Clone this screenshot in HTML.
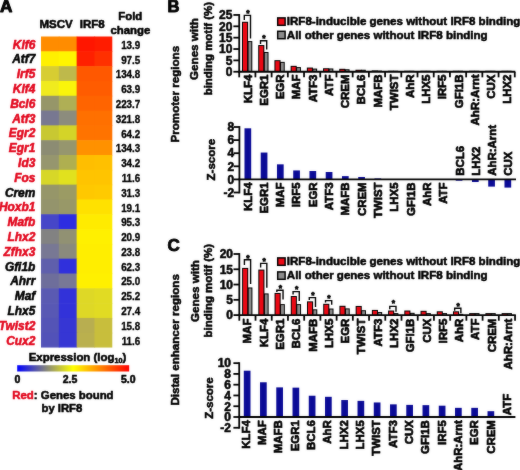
<!DOCTYPE html>
<html lang="en">
<head>
<meta charset="utf-8">
<title>Figure: IRF8-inducible genes and binding motifs</title>
<style>
html,body{margin:0;padding:0;background:#fff;}
body{width:520px;height:470px;overflow:hidden;}
svg{display:block;}
svg text{font-family:"Liberation Sans", Arial, Helvetica, sans-serif;font-weight:bold;stroke-width:0.55px;stroke-linejoin:round;}
</style>
</head>
<body>
<svg width="520" height="470" viewBox="0 0 520 470">
<rect x="0" y="0" width="520" height="470" fill="#fff"/>

<defs><filter id="soft" x="0" y="0" width="100%" height="100%" color-interpolation-filters="sRGB"><feGaussianBlur in="SourceGraphic" stdDeviation="0.8" result="b"/><feComposite in="SourceGraphic" in2="b" operator="arithmetic" k1="0" k2="0.72" k3="0.28" k4="0"/></filter></defs>
<g id="fig" filter="url(#soft)">
<g id="panelA">
<text x="0.1" y="12.2" text-anchor="start" fill="#000" stroke="#000" style="font-size:15.6px;stroke-width:0.9px;" transform="translate(0.1 12.2) rotate(0) scale(1.1 1) translate(-0.1 -12.2)">A</text>
<text x="56.1" y="27.6" text-anchor="middle" fill="#000" stroke="#000" style="font-size:11.5px;">MSCV</text>
<text x="92.2" y="27.6" text-anchor="middle" fill="#000" stroke="#000" style="font-size:11.5px;">IRF8</text>
<text x="130.3" y="20.0" text-anchor="middle" fill="#000" stroke="#000" style="font-size:11.4px;">Fold</text>
<text x="130.4" y="33.6" text-anchor="middle" fill="#000" stroke="#000" style="font-size:11.4px;">change</text>
<rect x="41.00" y="36.50" width="18.43" height="15.41" fill="rgb(255,140,0)"/>
<rect x="58.83" y="36.50" width="18.43" height="15.41" fill="rgb(255,140,0)"/>
<rect x="76.65" y="36.50" width="18.43" height="15.41" fill="rgb(255,22,0)"/>
<rect x="94.47" y="36.50" width="17.82" height="15.41" fill="rgb(255,28,0)"/>
<rect x="41.00" y="51.31" width="18.43" height="15.41" fill="rgb(255,240,0)"/>
<rect x="58.83" y="51.31" width="18.43" height="15.41" fill="rgb(255,245,0)"/>
<rect x="76.65" y="51.31" width="18.43" height="15.41" fill="rgb(255,32,0)"/>
<rect x="94.47" y="51.31" width="17.82" height="15.41" fill="rgb(255,48,0)"/>
<rect x="41.00" y="66.12" width="18.43" height="15.41" fill="rgb(215,205,50)"/>
<rect x="58.83" y="66.12" width="18.43" height="15.41" fill="rgb(190,185,75)"/>
<rect x="76.65" y="66.12" width="18.43" height="15.41" fill="rgb(255,88,0)"/>
<rect x="94.47" y="66.12" width="17.82" height="15.41" fill="rgb(255,88,0)"/>
<rect x="41.00" y="80.94" width="18.43" height="15.41" fill="rgb(240,235,30)"/>
<rect x="58.83" y="80.94" width="18.43" height="15.41" fill="rgb(250,245,10)"/>
<rect x="76.65" y="80.94" width="18.43" height="15.41" fill="rgb(255,92,0)"/>
<rect x="94.47" y="80.94" width="17.82" height="15.41" fill="rgb(255,92,0)"/>
<rect x="41.00" y="95.75" width="18.43" height="15.41" fill="rgb(150,150,105)"/>
<rect x="58.83" y="95.75" width="18.43" height="15.41" fill="rgb(175,175,85)"/>
<rect x="76.65" y="95.75" width="18.43" height="15.41" fill="rgb(255,100,0)"/>
<rect x="94.47" y="95.75" width="17.82" height="15.41" fill="rgb(255,100,0)"/>
<rect x="41.00" y="110.56" width="18.43" height="15.41" fill="rgb(120,120,145)"/>
<rect x="58.83" y="110.56" width="18.43" height="15.41" fill="rgb(140,140,125)"/>
<rect x="76.65" y="110.56" width="18.43" height="15.41" fill="rgb(255,112,0)"/>
<rect x="94.47" y="110.56" width="17.82" height="15.41" fill="rgb(255,112,0)"/>
<rect x="41.00" y="125.37" width="18.43" height="15.41" fill="rgb(200,200,50)"/>
<rect x="58.83" y="125.37" width="18.43" height="15.41" fill="rgb(212,212,40)"/>
<rect x="76.65" y="125.37" width="18.43" height="15.41" fill="rgb(255,115,0)"/>
<rect x="94.47" y="125.37" width="17.82" height="15.41" fill="rgb(255,115,0)"/>
<rect x="41.00" y="140.18" width="18.43" height="15.41" fill="rgb(140,140,115)"/>
<rect x="58.83" y="140.18" width="18.43" height="15.41" fill="rgb(150,150,110)"/>
<rect x="76.65" y="140.18" width="18.43" height="15.41" fill="rgb(255,145,0)"/>
<rect x="94.47" y="140.18" width="17.82" height="15.41" fill="rgb(255,145,0)"/>
<rect x="41.00" y="155.00" width="18.43" height="15.41" fill="rgb(150,150,110)"/>
<rect x="58.83" y="155.00" width="18.43" height="15.41" fill="rgb(175,175,80)"/>
<rect x="76.65" y="155.00" width="18.43" height="15.41" fill="rgb(255,190,0)"/>
<rect x="94.47" y="155.00" width="17.82" height="15.41" fill="rgb(255,192,0)"/>
<rect x="41.00" y="169.81" width="18.43" height="15.41" fill="rgb(215,215,40)"/>
<rect x="58.83" y="169.81" width="18.43" height="15.41" fill="rgb(225,225,30)"/>
<rect x="76.65" y="169.81" width="18.43" height="15.41" fill="rgb(255,196,0)"/>
<rect x="94.47" y="169.81" width="17.82" height="15.41" fill="rgb(255,196,0)"/>
<rect x="41.00" y="184.62" width="18.43" height="15.41" fill="rgb(150,150,105)"/>
<rect x="58.83" y="184.62" width="18.43" height="15.41" fill="rgb(155,155,100)"/>
<rect x="76.65" y="184.62" width="18.43" height="15.41" fill="rgb(255,200,0)"/>
<rect x="94.47" y="184.62" width="17.82" height="15.41" fill="rgb(255,202,0)"/>
<rect x="41.00" y="199.43" width="18.43" height="15.41" fill="rgb(148,148,108)"/>
<rect x="58.83" y="199.43" width="18.43" height="15.41" fill="rgb(152,152,104)"/>
<rect x="76.65" y="199.43" width="18.43" height="15.41" fill="rgb(255,225,0)"/>
<rect x="94.47" y="199.43" width="17.82" height="15.41" fill="rgb(255,225,0)"/>
<rect x="41.00" y="214.24" width="18.43" height="15.41" fill="rgb(70,70,200)"/>
<rect x="58.83" y="214.24" width="18.43" height="15.41" fill="rgb(45,45,225)"/>
<rect x="76.65" y="214.24" width="18.43" height="15.41" fill="rgb(255,235,0)"/>
<rect x="94.47" y="214.24" width="17.82" height="15.41" fill="rgb(255,235,0)"/>
<rect x="41.00" y="229.06" width="18.43" height="15.41" fill="rgb(130,130,130)"/>
<rect x="58.83" y="229.06" width="18.43" height="15.41" fill="rgb(145,145,115)"/>
<rect x="76.65" y="229.06" width="18.43" height="15.41" fill="rgb(255,240,0)"/>
<rect x="94.47" y="229.06" width="17.82" height="15.41" fill="rgb(255,240,0)"/>
<rect x="41.00" y="243.87" width="18.43" height="15.41" fill="rgb(120,120,148)"/>
<rect x="58.83" y="243.87" width="18.43" height="15.41" fill="rgb(138,138,125)"/>
<rect x="76.65" y="243.87" width="18.43" height="15.41" fill="rgb(255,238,0)"/>
<rect x="94.47" y="243.87" width="17.82" height="15.41" fill="rgb(255,238,0)"/>
<rect x="41.00" y="258.68" width="18.43" height="15.41" fill="rgb(95,95,172)"/>
<rect x="58.83" y="258.68" width="18.43" height="15.41" fill="rgb(48,48,220)"/>
<rect x="76.65" y="258.68" width="18.43" height="15.41" fill="rgb(255,238,0)"/>
<rect x="94.47" y="258.68" width="17.82" height="15.41" fill="rgb(255,238,0)"/>
<rect x="41.00" y="273.49" width="18.43" height="15.41" fill="rgb(110,110,155)"/>
<rect x="58.83" y="273.49" width="18.43" height="15.41" fill="rgb(120,120,150)"/>
<rect x="76.65" y="273.49" width="18.43" height="15.41" fill="rgb(255,240,0)"/>
<rect x="94.47" y="273.49" width="17.82" height="15.41" fill="rgb(255,240,0)"/>
<rect x="41.00" y="288.30" width="18.43" height="15.41" fill="rgb(90,90,178)"/>
<rect x="58.83" y="288.30" width="18.43" height="15.41" fill="rgb(50,50,217)"/>
<rect x="76.65" y="288.30" width="18.43" height="15.41" fill="rgb(222,216,38)"/>
<rect x="94.47" y="288.30" width="17.82" height="15.41" fill="rgb(225,219,35)"/>
<rect x="41.00" y="303.12" width="18.43" height="15.41" fill="rgb(88,88,180)"/>
<rect x="58.83" y="303.12" width="18.43" height="15.41" fill="rgb(50,50,217)"/>
<rect x="76.65" y="303.12" width="18.43" height="15.41" fill="rgb(222,216,38)"/>
<rect x="94.47" y="303.12" width="17.82" height="15.41" fill="rgb(225,219,35)"/>
<rect x="41.00" y="317.93" width="18.43" height="15.41" fill="rgb(84,84,182)"/>
<rect x="58.83" y="317.93" width="18.43" height="15.41" fill="rgb(54,54,212)"/>
<rect x="76.65" y="317.93" width="18.43" height="15.41" fill="rgb(184,174,80)"/>
<rect x="94.47" y="317.93" width="17.82" height="15.41" fill="rgb(200,190,60)"/>
<rect x="41.00" y="332.74" width="18.43" height="14.81" fill="rgb(82,82,184)"/>
<rect x="58.83" y="332.74" width="18.43" height="14.81" fill="rgb(54,54,212)"/>
<rect x="76.65" y="332.74" width="18.43" height="14.81" fill="rgb(186,176,78)"/>
<rect x="94.47" y="332.74" width="17.82" height="14.81" fill="rgb(200,190,60)"/>
<text x="35.3" y="48.70" text-anchor="end" fill="#e2081e" stroke="#e2081e" style="font-size:11.9px;stroke-width:0.55px;font-style:italic;">Klf6</text>
<text x="140.3" y="48.85" text-anchor="end" fill="#000" stroke="#000" style="font-size:10.6px;stroke-width:0.35px;" transform="translate(140.3 48.85) rotate(0) scale(0.93 1) translate(-140.3 -48.85)">13.9</text>
<text x="35.3" y="63.49" text-anchor="end" fill="#000" stroke="#000" style="font-size:11.9px;stroke-width:0.55px;font-style:italic;">Atf7</text>
<text x="140.3" y="63.64" text-anchor="end" fill="#000" stroke="#000" style="font-size:10.6px;stroke-width:0.35px;" transform="translate(140.3 63.64) rotate(0) scale(0.93 1) translate(-140.3 -63.64)">97.5</text>
<text x="35.3" y="78.28" text-anchor="end" fill="#e2081e" stroke="#e2081e" style="font-size:11.9px;stroke-width:0.55px;font-style:italic;">Irf5</text>
<text x="140.3" y="78.43" text-anchor="end" fill="#000" stroke="#000" style="font-size:10.6px;stroke-width:0.35px;" transform="translate(140.3 78.43) rotate(0) scale(0.93 1) translate(-140.3 -78.43)">134.8</text>
<text x="35.3" y="93.07" text-anchor="end" fill="#e2081e" stroke="#e2081e" style="font-size:11.9px;stroke-width:0.55px;font-style:italic;">Klf4</text>
<text x="140.3" y="93.22" text-anchor="end" fill="#000" stroke="#000" style="font-size:10.6px;stroke-width:0.35px;" transform="translate(140.3 93.22) rotate(0) scale(0.93 1) translate(-140.3 -93.22)">63.9</text>
<text x="35.3" y="107.86" text-anchor="end" fill="#e2081e" stroke="#e2081e" style="font-size:11.9px;stroke-width:0.55px;font-style:italic;">Bcl6</text>
<text x="140.3" y="108.01" text-anchor="end" fill="#000" stroke="#000" style="font-size:10.6px;stroke-width:0.35px;" transform="translate(140.3 108.01) rotate(0) scale(0.93 1) translate(-140.3 -108.01)">223.7</text>
<text x="35.3" y="122.65" text-anchor="end" fill="#e2081e" stroke="#e2081e" style="font-size:11.9px;stroke-width:0.55px;font-style:italic;">Atf3</text>
<text x="140.3" y="122.80" text-anchor="end" fill="#000" stroke="#000" style="font-size:10.6px;stroke-width:0.35px;" transform="translate(140.3 122.80) rotate(0) scale(0.93 1) translate(-140.3 -122.80)">321.8</text>
<text x="35.3" y="137.44" text-anchor="end" fill="#e2081e" stroke="#e2081e" style="font-size:11.9px;stroke-width:0.55px;font-style:italic;">Egr2</text>
<text x="140.3" y="137.59" text-anchor="end" fill="#000" stroke="#000" style="font-size:10.6px;stroke-width:0.35px;" transform="translate(140.3 137.59) rotate(0) scale(0.93 1) translate(-140.3 -137.59)">64.2</text>
<text x="35.3" y="152.23" text-anchor="end" fill="#e2081e" stroke="#e2081e" style="font-size:11.9px;stroke-width:0.55px;font-style:italic;">Egr1</text>
<text x="140.3" y="152.38" text-anchor="end" fill="#000" stroke="#000" style="font-size:10.6px;stroke-width:0.35px;" transform="translate(140.3 152.38) rotate(0) scale(0.93 1) translate(-140.3 -152.38)">134.3</text>
<text x="35.3" y="167.02" text-anchor="end" fill="#e2081e" stroke="#e2081e" style="font-size:11.9px;stroke-width:0.55px;font-style:italic;">Id3</text>
<text x="140.3" y="167.17" text-anchor="end" fill="#000" stroke="#000" style="font-size:10.6px;stroke-width:0.35px;" transform="translate(140.3 167.17) rotate(0) scale(0.93 1) translate(-140.3 -167.17)">34.2</text>
<text x="35.3" y="181.81" text-anchor="end" fill="#e2081e" stroke="#e2081e" style="font-size:11.9px;stroke-width:0.55px;font-style:italic;">Fos</text>
<text x="140.3" y="181.96" text-anchor="end" fill="#000" stroke="#000" style="font-size:10.6px;stroke-width:0.35px;" transform="translate(140.3 181.96) rotate(0) scale(0.93 1) translate(-140.3 -181.96)">11.6</text>
<text x="35.3" y="196.60" text-anchor="end" fill="#000" stroke="#000" style="font-size:11.9px;stroke-width:0.55px;font-style:italic;">Crem</text>
<text x="140.3" y="196.75" text-anchor="end" fill="#000" stroke="#000" style="font-size:10.6px;stroke-width:0.35px;" transform="translate(140.3 196.75) rotate(0) scale(0.93 1) translate(-140.3 -196.75)">31.3</text>
<text x="35.3" y="211.39" text-anchor="end" fill="#e2081e" stroke="#e2081e" style="font-size:11.9px;stroke-width:0.55px;font-style:italic;">Hoxb1</text>
<text x="140.3" y="211.54" text-anchor="end" fill="#000" stroke="#000" style="font-size:10.6px;stroke-width:0.35px;" transform="translate(140.3 211.54) rotate(0) scale(0.93 1) translate(-140.3 -211.54)">19.1</text>
<text x="35.3" y="226.18" text-anchor="end" fill="#e2081e" stroke="#e2081e" style="font-size:11.9px;stroke-width:0.55px;font-style:italic;">Mafb</text>
<text x="140.3" y="226.33" text-anchor="end" fill="#000" stroke="#000" style="font-size:10.6px;stroke-width:0.35px;" transform="translate(140.3 226.33) rotate(0) scale(0.93 1) translate(-140.3 -226.33)">95.3</text>
<text x="35.3" y="240.97" text-anchor="end" fill="#e2081e" stroke="#e2081e" style="font-size:11.9px;stroke-width:0.55px;font-style:italic;">Lhx2</text>
<text x="140.3" y="241.12" text-anchor="end" fill="#000" stroke="#000" style="font-size:10.6px;stroke-width:0.35px;" transform="translate(140.3 241.12) rotate(0) scale(0.93 1) translate(-140.3 -241.12)">20.9</text>
<text x="35.3" y="255.76" text-anchor="end" fill="#e2081e" stroke="#e2081e" style="font-size:11.9px;stroke-width:0.55px;font-style:italic;">Zfhx3</text>
<text x="140.3" y="255.91" text-anchor="end" fill="#000" stroke="#000" style="font-size:10.6px;stroke-width:0.35px;" transform="translate(140.3 255.91) rotate(0) scale(0.93 1) translate(-140.3 -255.91)">23.8</text>
<text x="35.3" y="270.55" text-anchor="end" fill="#000" stroke="#000" style="font-size:11.9px;stroke-width:0.55px;font-style:italic;">Gfi1b</text>
<text x="140.3" y="270.70" text-anchor="end" fill="#000" stroke="#000" style="font-size:10.6px;stroke-width:0.35px;" transform="translate(140.3 270.70) rotate(0) scale(0.93 1) translate(-140.3 -270.70)">62.3</text>
<text x="35.3" y="285.34" text-anchor="end" fill="#000" stroke="#000" style="font-size:11.9px;stroke-width:0.55px;font-style:italic;">Ahrr</text>
<text x="140.3" y="285.49" text-anchor="end" fill="#000" stroke="#000" style="font-size:10.6px;stroke-width:0.35px;" transform="translate(140.3 285.49) rotate(0) scale(0.93 1) translate(-140.3 -285.49)">25.0</text>
<text x="35.3" y="300.13" text-anchor="end" fill="#000" stroke="#000" style="font-size:11.9px;stroke-width:0.55px;font-style:italic;">Maf</text>
<text x="140.3" y="300.28" text-anchor="end" fill="#000" stroke="#000" style="font-size:10.6px;stroke-width:0.35px;" transform="translate(140.3 300.28) rotate(0) scale(0.93 1) translate(-140.3 -300.28)">25.2</text>
<text x="35.3" y="314.92" text-anchor="end" fill="#000" stroke="#000" style="font-size:11.9px;stroke-width:0.55px;font-style:italic;">Lhx5</text>
<text x="140.3" y="315.07" text-anchor="end" fill="#000" stroke="#000" style="font-size:10.6px;stroke-width:0.35px;" transform="translate(140.3 315.07) rotate(0) scale(0.93 1) translate(-140.3 -315.07)">27.4</text>
<text x="35.3" y="329.71" text-anchor="end" fill="#e2081e" stroke="#e2081e" style="font-size:11.9px;stroke-width:0.55px;font-style:italic;">Twist2</text>
<text x="140.3" y="329.86" text-anchor="end" fill="#000" stroke="#000" style="font-size:10.6px;stroke-width:0.35px;" transform="translate(140.3 329.86) rotate(0) scale(0.93 1) translate(-140.3 -329.86)">15.8</text>
<text x="35.3" y="344.50" text-anchor="end" fill="#e2081e" stroke="#e2081e" style="font-size:11.9px;stroke-width:0.55px;font-style:italic;">Cux2</text>
<text x="140.3" y="344.65" text-anchor="end" fill="#000" stroke="#000" style="font-size:10.6px;stroke-width:0.35px;" transform="translate(140.3 344.65) rotate(0) scale(0.93 1) translate(-140.3 -344.65)">11.6</text>
<text x="28.7" y="361.1" stroke="#000" style="font-size:11.45px">Expression (log<tspan dy="2.3" style="font-size:7.2px">10</tspan><tspan dy="-2.3">)</tspan></text>
<defs><linearGradient id="cb" x1="0" x2="1" y1="0" y2="0"><stop offset="0" stop-color="rgb(0,0,255)"/><stop offset="0.25" stop-color="rgb(128,128,128)"/><stop offset="0.5" stop-color="rgb(255,255,0)"/><stop offset="0.75" stop-color="rgb(255,128,0)"/><stop offset="1" stop-color="rgb(255,0,0)"/></linearGradient></defs>
<rect x="17.20" y="365.20" width="112.00" height="6.30" fill="url(#cb)"/>
<text x="17.5" y="382.6" text-anchor="middle" fill="#000" stroke="#000" style="font-size:10.5px;">0</text>
<text x="70.0" y="382.6" text-anchor="middle" fill="#000" stroke="#000" style="font-size:10.5px;">2.5</text>
<text x="128.3" y="382.6" text-anchor="middle" fill="#000" stroke="#000" style="font-size:10.5px;">5.0</text>
<text x="12.3" y="398.5" stroke="#000" style="font-size:11.4px"><tspan fill="#e2081e" stroke="#e2081e">Red</tspan>: Genes bound</text>
<text x="41.5" y="412.3" text-anchor="start" fill="#000" stroke="#000" style="font-size:11.3px;">by IRF8</text>
</g>
<g id="panelB">
<text x="167.4" y="12.0" text-anchor="start" fill="#000" stroke="#000" style="font-size:16.6px;stroke-width:0.9px;">B</text>
<text x="178.6" y="142.5" text-anchor="start" fill="#000" stroke="#000" style="font-size:11.6px;" transform="rotate(-90 178.6 142.5)">Promoter regions</text>
<text x="198.5" y="79.9" text-anchor="start" fill="#000" stroke="#000" style="font-size:11.6px;" transform="rotate(-90 198.5 79.9)">Genes with</text>
<text x="212.3" y="95.3" text-anchor="start" fill="#000" stroke="#000" style="font-size:11.45px;" transform="rotate(-90 212.3 95.3)">binding motif (%)</text>
<rect x="247.50" y="41.08" width="4.80" height="30.67" fill="#000"/>
<rect x="248.50" y="42.08" width="2.80" height="29.67" fill="#8c8c8c"/>
<rect x="242.00" y="21.77" width="6.10" height="49.98" fill="#000"/>
<rect x="243.00" y="22.77" width="4.10" height="48.98" fill="#ee0814"/>
<rect x="263.71" y="51.98" width="4.80" height="19.77" fill="#000"/>
<rect x="264.71" y="52.98" width="2.80" height="18.77" fill="#8c8c8c"/>
<rect x="258.21" y="45.05" width="6.10" height="26.70" fill="#000"/>
<rect x="259.21" y="46.05" width="4.10" height="25.70" fill="#ee0814"/>
<rect x="279.93" y="61.87" width="4.80" height="9.88" fill="#000"/>
<rect x="280.93" y="62.87" width="2.80" height="8.88" fill="#8c8c8c"/>
<rect x="274.43" y="60.16" width="6.10" height="11.59" fill="#000"/>
<rect x="275.43" y="61.16" width="4.10" height="10.59" fill="#ee0814"/>
<rect x="296.13" y="67.09" width="4.80" height="4.66" fill="#000"/>
<rect x="297.13" y="68.09" width="2.80" height="3.66" fill="#8c8c8c"/>
<rect x="290.63" y="65.84" width="6.10" height="5.91" fill="#000"/>
<rect x="291.63" y="66.84" width="4.10" height="4.91" fill="#ee0814"/>
<rect x="312.34" y="68.57" width="4.80" height="3.18" fill="#000"/>
<rect x="313.34" y="69.57" width="2.80" height="2.18" fill="#8c8c8c"/>
<rect x="306.84" y="67.55" width="6.10" height="4.20" fill="#000"/>
<rect x="307.84" y="68.55" width="4.10" height="3.20" fill="#ee0814"/>
<rect x="328.56" y="68.46" width="4.80" height="3.29" fill="#000"/>
<rect x="329.56" y="69.46" width="2.80" height="2.29" fill="#8c8c8c"/>
<rect x="323.06" y="68.23" width="6.10" height="3.52" fill="#000"/>
<rect x="324.06" y="69.23" width="4.10" height="2.52" fill="#ee0814"/>
<rect x="344.76" y="69.25" width="4.80" height="2.50" fill="#000"/>
<rect x="345.76" y="70.25" width="2.80" height="1.50" fill="#8c8c8c"/>
<rect x="339.26" y="68.80" width="6.10" height="2.95" fill="#000"/>
<rect x="340.26" y="69.80" width="4.10" height="1.95" fill="#ee0814"/>
<rect x="360.97" y="69.75" width="4.80" height="2.00" fill="#000"/>
<rect x="361.97" y="70.75" width="2.80" height="1.00" fill="#8c8c8c"/>
<rect x="355.47" y="69.75" width="6.10" height="2.00" fill="#000"/>
<rect x="356.47" y="70.75" width="4.10" height="1.00" fill="#ee0814"/>
<rect x="377.19" y="70.61" width="4.80" height="1.14" fill="#000"/>
<rect x="371.69" y="70.39" width="6.10" height="1.36" fill="#000"/>
<rect x="372.69" y="71.39" width="4.10" height="0.36" fill="#ee0814"/>
<rect x="393.39" y="70.75" width="4.80" height="1.00" fill="#000"/>
<rect x="387.89" y="70.73" width="6.10" height="1.02" fill="#000"/>
<rect x="409.60" y="70.75" width="4.80" height="1.00" fill="#000"/>
<rect x="404.10" y="70.75" width="6.10" height="1.00" fill="#000"/>
<rect x="425.81" y="70.75" width="4.80" height="1.00" fill="#000"/>
<rect x="420.31" y="70.75" width="6.10" height="1.00" fill="#000"/>
<rect x="442.02" y="70.75" width="4.80" height="1.00" fill="#000"/>
<rect x="436.52" y="70.75" width="6.10" height="1.00" fill="#000"/>
<rect x="458.23" y="70.75" width="4.80" height="1.00" fill="#000"/>
<rect x="452.73" y="70.75" width="6.10" height="1.00" fill="#000"/>
<rect x="474.44" y="70.75" width="4.80" height="1.00" fill="#000"/>
<rect x="468.94" y="70.75" width="6.10" height="1.00" fill="#000"/>
<rect x="490.66" y="70.75" width="4.80" height="1.00" fill="#000"/>
<rect x="485.16" y="70.75" width="6.10" height="1.00" fill="#000"/>
<rect x="506.87" y="70.75" width="4.80" height="1.00" fill="#000"/>
<rect x="501.37" y="70.75" width="6.10" height="1.00" fill="#000"/>
<polyline points="244.30,20.00 244.30,15.40 250.50,15.40 250.50,38.60" fill="none" stroke="#000" stroke-width="1.4"/>
<text x="247.80" y="16.20" text-anchor="middle" fill="#000" stroke="#000" style="font-size:8.5px;stroke-width:0.7px">*</text>
<polyline points="260.51,44.00 260.51,40.80 266.71,40.80 266.71,49.60" fill="none" stroke="#000" stroke-width="1.4"/>
<text x="264.01" y="40.90" text-anchor="middle" fill="#000" stroke="#000" style="font-size:8.5px;stroke-width:0.7px">*</text>
<line x1="238.30" y1="71.75" x2="515.30" y2="71.75" stroke="#000" stroke-width="1.8" stroke-linecap="butt"/>
<line x1="239.20" y1="14.05" x2="239.20" y2="72.65" stroke="#000" stroke-width="1.8" stroke-linecap="butt"/>
<line x1="233.40" y1="71.75" x2="239.20" y2="71.75" stroke="#000" stroke-width="1.8" stroke-linecap="butt"/>
<text x="232.4" y="76.05" text-anchor="end" fill="#000" stroke="#000" style="font-size:12.0px;">0</text>
<line x1="233.40" y1="60.39" x2="239.20" y2="60.39" stroke="#000" stroke-width="1.8" stroke-linecap="butt"/>
<text x="232.4" y="64.69" text-anchor="end" fill="#000" stroke="#000" style="font-size:12.0px;">5</text>
<line x1="233.40" y1="49.03" x2="239.20" y2="49.03" stroke="#000" stroke-width="1.8" stroke-linecap="butt"/>
<text x="232.4" y="53.33" text-anchor="end" fill="#000" stroke="#000" style="font-size:12.0px;">10</text>
<line x1="233.40" y1="37.67" x2="239.20" y2="37.67" stroke="#000" stroke-width="1.8" stroke-linecap="butt"/>
<text x="232.4" y="41.97" text-anchor="end" fill="#000" stroke="#000" style="font-size:12.0px;">15</text>
<line x1="233.40" y1="26.31" x2="239.20" y2="26.31" stroke="#000" stroke-width="1.8" stroke-linecap="butt"/>
<text x="232.4" y="30.61" text-anchor="end" fill="#000" stroke="#000" style="font-size:12.0px;">20</text>
<line x1="233.40" y1="14.95" x2="239.20" y2="14.95" stroke="#000" stroke-width="1.8" stroke-linecap="butt"/>
<text x="232.4" y="19.25" text-anchor="end" fill="#000" stroke="#000" style="font-size:12.0px;">25</text>
<line x1="239.20" y1="71.75" x2="239.20" y2="77.35" stroke="#000" stroke-width="1.8" stroke-linecap="butt"/>
<line x1="255.41" y1="71.75" x2="255.41" y2="77.35" stroke="#000" stroke-width="1.8" stroke-linecap="butt"/>
<line x1="271.62" y1="71.75" x2="271.62" y2="77.35" stroke="#000" stroke-width="1.8" stroke-linecap="butt"/>
<line x1="287.83" y1="71.75" x2="287.83" y2="77.35" stroke="#000" stroke-width="1.8" stroke-linecap="butt"/>
<line x1="304.04" y1="71.75" x2="304.04" y2="77.35" stroke="#000" stroke-width="1.8" stroke-linecap="butt"/>
<line x1="320.25" y1="71.75" x2="320.25" y2="77.35" stroke="#000" stroke-width="1.8" stroke-linecap="butt"/>
<line x1="336.46" y1="71.75" x2="336.46" y2="77.35" stroke="#000" stroke-width="1.8" stroke-linecap="butt"/>
<line x1="352.67" y1="71.75" x2="352.67" y2="77.35" stroke="#000" stroke-width="1.8" stroke-linecap="butt"/>
<line x1="368.88" y1="71.75" x2="368.88" y2="77.35" stroke="#000" stroke-width="1.8" stroke-linecap="butt"/>
<line x1="385.09" y1="71.75" x2="385.09" y2="77.35" stroke="#000" stroke-width="1.8" stroke-linecap="butt"/>
<line x1="401.30" y1="71.75" x2="401.30" y2="77.35" stroke="#000" stroke-width="1.8" stroke-linecap="butt"/>
<line x1="417.51" y1="71.75" x2="417.51" y2="77.35" stroke="#000" stroke-width="1.8" stroke-linecap="butt"/>
<line x1="433.72" y1="71.75" x2="433.72" y2="77.35" stroke="#000" stroke-width="1.8" stroke-linecap="butt"/>
<line x1="449.93" y1="71.75" x2="449.93" y2="77.35" stroke="#000" stroke-width="1.8" stroke-linecap="butt"/>
<line x1="466.14" y1="71.75" x2="466.14" y2="77.35" stroke="#000" stroke-width="1.8" stroke-linecap="butt"/>
<line x1="482.35" y1="71.75" x2="482.35" y2="77.35" stroke="#000" stroke-width="1.8" stroke-linecap="butt"/>
<line x1="498.56" y1="71.75" x2="498.56" y2="77.35" stroke="#000" stroke-width="1.8" stroke-linecap="butt"/>
<line x1="514.77" y1="71.75" x2="514.77" y2="77.35" stroke="#000" stroke-width="1.8" stroke-linecap="butt"/>
<text x="251.60" y="74.50" text-anchor="end" fill="#000" stroke="#000" style="font-size:11.8px;stroke-width:0.7px;" transform="translate(251.60 74.50) rotate(-90) scale(0.972 1) translate(-251.60 -74.50)">KLF4</text>
<text x="267.84" y="74.50" text-anchor="end" fill="#000" stroke="#000" style="font-size:11.8px;stroke-width:0.7px;" transform="translate(267.84 74.50) rotate(-90) scale(0.972 1) translate(-267.84 -74.50)">EGR1</text>
<text x="284.08" y="74.50" text-anchor="end" fill="#000" stroke="#000" style="font-size:11.8px;stroke-width:0.7px;" transform="translate(284.08 74.50) rotate(-90) scale(0.972 1) translate(-284.08 -74.50)">EGR</text>
<text x="300.32" y="74.50" text-anchor="end" fill="#000" stroke="#000" style="font-size:11.8px;stroke-width:0.7px;" transform="translate(300.32 74.50) rotate(-90) scale(0.972 1) translate(-300.32 -74.50)">MAF</text>
<text x="316.56" y="74.50" text-anchor="end" fill="#000" stroke="#000" style="font-size:11.8px;stroke-width:0.7px;" transform="translate(316.56 74.50) rotate(-90) scale(0.972 1) translate(-316.56 -74.50)">ATF3</text>
<text x="332.81" y="74.50" text-anchor="end" fill="#000" stroke="#000" style="font-size:11.8px;stroke-width:0.7px;" transform="translate(332.81 74.50) rotate(-90) scale(0.972 1) translate(-332.81 -74.50)">ATF</text>
<text x="349.05" y="74.50" text-anchor="end" fill="#000" stroke="#000" style="font-size:11.8px;stroke-width:0.7px;" transform="translate(349.05 74.50) rotate(-90) scale(0.972 1) translate(-349.05 -74.50)">CREM</text>
<text x="365.28" y="74.50" text-anchor="end" fill="#000" stroke="#000" style="font-size:11.8px;stroke-width:0.7px;" transform="translate(365.28 74.50) rotate(-90) scale(0.972 1) translate(-365.28 -74.50)">BCL6</text>
<text x="381.52" y="74.50" text-anchor="end" fill="#000" stroke="#000" style="font-size:11.8px;stroke-width:0.7px;" transform="translate(381.52 74.50) rotate(-90) scale(0.972 1) translate(-381.52 -74.50)">MAFB</text>
<text x="397.76" y="74.50" text-anchor="end" fill="#000" stroke="#000" style="font-size:11.8px;stroke-width:0.7px;" transform="translate(397.76 74.50) rotate(-90) scale(0.972 1) translate(-397.76 -74.50)">TWIST</text>
<text x="414.00" y="74.50" text-anchor="end" fill="#000" stroke="#000" style="font-size:11.8px;stroke-width:0.7px;" transform="translate(414.00 74.50) rotate(-90) scale(0.972 1) translate(-414.00 -74.50)">AhR</text>
<text x="430.24" y="74.50" text-anchor="end" fill="#000" stroke="#000" style="font-size:11.8px;stroke-width:0.7px;" transform="translate(430.24 74.50) rotate(-90) scale(0.972 1) translate(-430.24 -74.50)">LHX5</text>
<text x="446.48" y="74.50" text-anchor="end" fill="#000" stroke="#000" style="font-size:11.8px;stroke-width:0.7px;" transform="translate(446.48 74.50) rotate(-90) scale(0.972 1) translate(-446.48 -74.50)">IRF5</text>
<text x="462.72" y="74.50" text-anchor="end" fill="#000" stroke="#000" style="font-size:11.8px;stroke-width:0.7px;" transform="translate(462.72 74.50) rotate(-90) scale(0.972 1) translate(-462.72 -74.50)">GFI1B</text>
<text x="478.96" y="74.50" text-anchor="end" fill="#000" stroke="#000" style="font-size:11.8px;stroke-width:0.7px;" transform="translate(478.96 74.50) rotate(-90) scale(0.972 1) translate(-478.96 -74.50)">AhR:Arnt</text>
<text x="495.20" y="74.50" text-anchor="end" fill="#000" stroke="#000" style="font-size:11.8px;stroke-width:0.7px;" transform="translate(495.20 74.50) rotate(-90) scale(0.972 1) translate(-495.20 -74.50)">CUX</text>
<text x="511.44" y="74.50" text-anchor="end" fill="#000" stroke="#000" style="font-size:11.8px;stroke-width:0.7px;" transform="translate(511.44 74.50) rotate(-90) scale(0.972 1) translate(-511.44 -74.50)">LHX2</text>
<rect x="277.70" y="17.90" width="7.40" height="7.40" fill="#ee0814" stroke="#000" stroke-width="1.5"/>
<rect x="277.70" y="31.30" width="7.40" height="7.40" fill="#8c8c8c" stroke="#000" stroke-width="1.5"/>
<text x="286.8" y="25.30" text-anchor="start" fill="#000" stroke="#000" style="font-size:11.55px;">IRF8-inducible genes without IRF8 binding</text>
<text x="286.8" y="38.70" text-anchor="start" fill="#000" stroke="#000" style="font-size:11.55px;">All other genes without IRF8 binding</text>
<text x="215.2" y="180.4" text-anchor="start" fill="#000" stroke="#000" style="font-size:11.5px;" transform="rotate(-90 215.2 180.4)">Z-score</text>
<rect x="244.48" y="128.31" width="6.70" height="51.09" fill="#0a0a96"/>
<rect x="260.72" y="152.55" width="6.70" height="26.85" fill="#0a0a96"/>
<rect x="276.97" y="164.34" width="6.70" height="15.06" fill="#0a0a96"/>
<rect x="293.22" y="170.43" width="6.70" height="8.97" fill="#0a0a96"/>
<rect x="309.47" y="171.02" width="6.70" height="8.38" fill="#0a0a96"/>
<rect x="325.72" y="172.00" width="6.70" height="7.40" fill="#0a0a96"/>
<rect x="341.97" y="176.12" width="6.70" height="3.27" fill="#0a0a96"/>
<rect x="358.22" y="176.98" width="6.70" height="2.42" fill="#0a0a96"/>
<rect x="374.47" y="178.42" width="6.70" height="0.98" fill="#0a0a96"/>
<rect x="390.72" y="179.01" width="6.70" height="0.39" fill="#0a0a96"/>
<rect x="406.97" y="179.07" width="6.70" height="0.33" fill="#0a0a96"/>
<rect x="423.22" y="179.40" width="6.70" height="0.00" fill="#0a0a96"/>
<rect x="439.47" y="179.40" width="6.70" height="0.00" fill="#0a0a96"/>
<rect x="455.72" y="179.40" width="6.70" height="1.31" fill="#0a0a96"/>
<rect x="471.97" y="179.40" width="6.70" height="2.62" fill="#0a0a96"/>
<rect x="488.22" y="179.40" width="6.70" height="7.21" fill="#0a0a96"/>
<rect x="504.47" y="179.40" width="6.70" height="8.19" fill="#0a0a96"/>
<line x1="238.50" y1="179.40" x2="516.00" y2="179.40" stroke="#000" stroke-width="1.8" stroke-linecap="butt"/>
<line x1="239.40" y1="126.10" x2="239.40" y2="193.40" stroke="#000" stroke-width="1.8" stroke-linecap="butt"/>
<line x1="233.60" y1="192.50" x2="239.40" y2="192.50" stroke="#000" stroke-width="1.8" stroke-linecap="butt"/>
<text x="234.0" y="196.76" text-anchor="end" fill="#000" stroke="#000" style="font-size:11.9px;">-2</text>
<line x1="233.60" y1="179.40" x2="239.40" y2="179.40" stroke="#000" stroke-width="1.8" stroke-linecap="butt"/>
<text x="234.0" y="183.66" text-anchor="end" fill="#000" stroke="#000" style="font-size:11.9px;">0</text>
<line x1="233.60" y1="166.30" x2="239.40" y2="166.30" stroke="#000" stroke-width="1.8" stroke-linecap="butt"/>
<text x="234.0" y="170.56" text-anchor="end" fill="#000" stroke="#000" style="font-size:11.9px;">2</text>
<line x1="233.60" y1="153.20" x2="239.40" y2="153.20" stroke="#000" stroke-width="1.8" stroke-linecap="butt"/>
<text x="234.0" y="157.46" text-anchor="end" fill="#000" stroke="#000" style="font-size:11.9px;">4</text>
<line x1="233.60" y1="140.10" x2="239.40" y2="140.10" stroke="#000" stroke-width="1.8" stroke-linecap="butt"/>
<text x="234.0" y="144.36" text-anchor="end" fill="#000" stroke="#000" style="font-size:11.9px;">6</text>
<line x1="233.60" y1="127.00" x2="239.40" y2="127.00" stroke="#000" stroke-width="1.8" stroke-linecap="butt"/>
<text x="234.0" y="131.26" text-anchor="end" fill="#000" stroke="#000" style="font-size:11.9px;">8</text>
<text x="251.53" y="182.40" text-anchor="end" fill="#000" stroke="#000" style="font-size:11.8px;stroke-width:0.7px;" transform="translate(251.53 182.40) rotate(-90) scale(0.97 1) translate(-251.53 -182.40)">KLF4</text>
<text x="267.83" y="182.40" text-anchor="end" fill="#000" stroke="#000" style="font-size:11.8px;stroke-width:0.7px;" transform="translate(267.83 182.40) rotate(-90) scale(0.97 1) translate(-267.83 -182.40)">EGR1</text>
<text x="284.14" y="182.40" text-anchor="end" fill="#000" stroke="#000" style="font-size:11.8px;stroke-width:0.7px;" transform="translate(284.14 182.40) rotate(-90) scale(0.97 1) translate(-284.14 -182.40)">MAF</text>
<text x="300.45" y="182.40" text-anchor="end" fill="#000" stroke="#000" style="font-size:11.8px;stroke-width:0.7px;" transform="translate(300.45 182.40) rotate(-90) scale(0.97 1) translate(-300.45 -182.40)">IRF5</text>
<text x="316.76" y="182.40" text-anchor="end" fill="#000" stroke="#000" style="font-size:11.8px;stroke-width:0.7px;" transform="translate(316.76 182.40) rotate(-90) scale(0.97 1) translate(-316.76 -182.40)">EGR</text>
<text x="333.07" y="182.40" text-anchor="end" fill="#000" stroke="#000" style="font-size:11.8px;stroke-width:0.7px;" transform="translate(333.07 182.40) rotate(-90) scale(0.97 1) translate(-333.07 -182.40)">ATF3</text>
<text x="349.38" y="182.40" text-anchor="end" fill="#000" stroke="#000" style="font-size:11.8px;stroke-width:0.7px;" transform="translate(349.38 182.40) rotate(-90) scale(0.97 1) translate(-349.38 -182.40)">MAFB</text>
<text x="365.69" y="182.40" text-anchor="end" fill="#000" stroke="#000" style="font-size:11.8px;stroke-width:0.7px;" transform="translate(365.69 182.40) rotate(-90) scale(0.97 1) translate(-365.69 -182.40)">CREM</text>
<text x="382.00" y="182.40" text-anchor="end" fill="#000" stroke="#000" style="font-size:11.8px;stroke-width:0.7px;" transform="translate(382.00 182.40) rotate(-90) scale(0.97 1) translate(-382.00 -182.40)">TWIST</text>
<text x="398.31" y="182.40" text-anchor="end" fill="#000" stroke="#000" style="font-size:11.8px;stroke-width:0.7px;" transform="translate(398.31 182.40) rotate(-90) scale(0.97 1) translate(-398.31 -182.40)">LHX5</text>
<text x="414.62" y="182.40" text-anchor="end" fill="#000" stroke="#000" style="font-size:11.8px;stroke-width:0.7px;" transform="translate(414.62 182.40) rotate(-90) scale(0.97 1) translate(-414.62 -182.40)">GFI1B</text>
<text x="430.94" y="182.40" text-anchor="end" fill="#000" stroke="#000" style="font-size:11.8px;stroke-width:0.7px;" transform="translate(430.94 182.40) rotate(-90) scale(0.97 1) translate(-430.94 -182.40)">AhR</text>
<text x="447.25" y="182.40" text-anchor="end" fill="#000" stroke="#000" style="font-size:11.8px;stroke-width:0.7px;" transform="translate(447.25 182.40) rotate(-90) scale(0.97 1) translate(-447.25 -182.40)">ATF</text>
<text x="463.55" y="175.80" text-anchor="start" fill="#000" stroke="#000" style="font-size:11.8px;stroke-width:0.7px;" transform="translate(463.55 175.80) rotate(-90) scale(0.97 1) translate(-463.55 -175.80)">BCL6</text>
<text x="479.87" y="175.80" text-anchor="start" fill="#000" stroke="#000" style="font-size:11.8px;stroke-width:0.7px;" transform="translate(479.87 175.80) rotate(-90) scale(0.97 1) translate(-479.87 -175.80)">LHX2</text>
<text x="496.17" y="175.80" text-anchor="start" fill="#000" stroke="#000" style="font-size:11.8px;stroke-width:0.7px;" transform="translate(496.17 175.80) rotate(-90) scale(0.97 1) translate(-496.17 -175.80)">AhR:Arnt</text>
<text x="512.49" y="175.80" text-anchor="start" fill="#000" stroke="#000" style="font-size:11.8px;stroke-width:0.7px;" transform="translate(512.49 175.80) rotate(-90) scale(0.97 1) translate(-512.49 -175.80)">CUX</text>
</g>
<g id="panelC">
<text x="167.5" y="251.4" text-anchor="start" fill="#000" stroke="#000" style="font-size:17px;stroke-width:0.9px;">C</text>
<text x="179.5" y="405.6" text-anchor="start" fill="#000" stroke="#000" style="font-size:11.6px;" transform="rotate(-90 179.5 405.6)">Distal enhancer regions</text>
<text x="198.5" y="322.0" text-anchor="start" fill="#000" stroke="#000" style="font-size:11.6px;" transform="rotate(-90 198.5 322.0)">Genes with</text>
<text x="212.3" y="337.4" text-anchor="start" fill="#000" stroke="#000" style="font-size:11.45px;" transform="rotate(-90 212.3 337.4)">binding motif (%)</text>
<rect x="247.61" y="287.45" width="4.80" height="27.65" fill="#000"/>
<rect x="248.61" y="288.45" width="2.80" height="26.65" fill="#8c8c8c"/>
<rect x="242.11" y="267.90" width="6.10" height="47.20" fill="#000"/>
<rect x="243.11" y="268.90" width="4.10" height="46.20" fill="#ee0814"/>
<rect x="263.83" y="293.41" width="4.80" height="21.69" fill="#000"/>
<rect x="264.83" y="294.41" width="2.80" height="20.69" fill="#8c8c8c"/>
<rect x="258.33" y="269.58" width="6.10" height="45.52" fill="#000"/>
<rect x="259.33" y="270.58" width="4.10" height="44.52" fill="#ee0814"/>
<rect x="280.05" y="304.10" width="4.80" height="11.00" fill="#000"/>
<rect x="281.05" y="305.10" width="2.80" height="10.00" fill="#8c8c8c"/>
<rect x="274.55" y="292.95" width="6.10" height="22.15" fill="#000"/>
<rect x="275.55" y="293.95" width="4.10" height="21.15" fill="#ee0814"/>
<rect x="296.27" y="304.10" width="4.80" height="11.00" fill="#000"/>
<rect x="297.27" y="305.10" width="2.80" height="10.00" fill="#8c8c8c"/>
<rect x="290.77" y="296.01" width="6.10" height="19.09" fill="#000"/>
<rect x="291.77" y="297.01" width="4.10" height="18.09" fill="#ee0814"/>
<rect x="312.49" y="309.30" width="4.80" height="5.80" fill="#000"/>
<rect x="313.49" y="310.30" width="2.80" height="4.80" fill="#8c8c8c"/>
<rect x="306.99" y="301.35" width="6.10" height="13.75" fill="#000"/>
<rect x="307.99" y="302.35" width="4.10" height="12.75" fill="#ee0814"/>
<rect x="328.71" y="308.53" width="4.80" height="6.57" fill="#000"/>
<rect x="329.71" y="309.53" width="2.80" height="5.57" fill="#8c8c8c"/>
<rect x="323.21" y="303.80" width="6.10" height="11.30" fill="#000"/>
<rect x="324.21" y="304.80" width="4.10" height="10.30" fill="#ee0814"/>
<rect x="344.93" y="308.38" width="4.80" height="6.72" fill="#000"/>
<rect x="345.93" y="309.38" width="2.80" height="5.72" fill="#8c8c8c"/>
<rect x="339.43" y="305.78" width="6.10" height="9.32" fill="#000"/>
<rect x="340.43" y="306.78" width="4.10" height="8.32" fill="#ee0814"/>
<rect x="361.15" y="310.21" width="4.80" height="4.89" fill="#000"/>
<rect x="362.15" y="311.21" width="2.80" height="3.89" fill="#8c8c8c"/>
<rect x="355.65" y="305.94" width="6.10" height="9.17" fill="#000"/>
<rect x="356.65" y="306.94" width="4.10" height="8.17" fill="#ee0814"/>
<rect x="377.37" y="312.05" width="4.80" height="3.06" fill="#000"/>
<rect x="378.37" y="313.05" width="2.80" height="2.06" fill="#8c8c8c"/>
<rect x="371.87" y="309.91" width="6.10" height="5.19" fill="#000"/>
<rect x="372.87" y="310.91" width="4.10" height="4.19" fill="#ee0814"/>
<rect x="393.59" y="313.10" width="4.80" height="2.00" fill="#000"/>
<rect x="394.59" y="314.10" width="2.80" height="1.00" fill="#8c8c8c"/>
<rect x="388.09" y="310.52" width="6.10" height="4.58" fill="#000"/>
<rect x="389.09" y="311.52" width="4.10" height="3.58" fill="#ee0814"/>
<rect x="409.81" y="312.81" width="4.80" height="2.29" fill="#000"/>
<rect x="410.81" y="313.81" width="2.80" height="1.29" fill="#8c8c8c"/>
<rect x="404.31" y="310.52" width="6.10" height="4.58" fill="#000"/>
<rect x="405.31" y="311.52" width="4.10" height="3.58" fill="#ee0814"/>
<rect x="426.03" y="313.10" width="4.80" height="2.00" fill="#000"/>
<rect x="427.03" y="314.10" width="2.80" height="1.00" fill="#8c8c8c"/>
<rect x="420.53" y="310.82" width="6.10" height="4.28" fill="#000"/>
<rect x="421.53" y="311.82" width="4.10" height="3.28" fill="#ee0814"/>
<rect x="442.25" y="313.10" width="4.80" height="2.00" fill="#000"/>
<rect x="443.25" y="314.10" width="2.80" height="1.00" fill="#8c8c8c"/>
<rect x="436.75" y="311.28" width="6.10" height="3.82" fill="#000"/>
<rect x="437.75" y="312.28" width="4.10" height="2.82" fill="#ee0814"/>
<rect x="458.47" y="313.88" width="4.80" height="1.22" fill="#000"/>
<rect x="452.97" y="311.28" width="6.10" height="3.82" fill="#000"/>
<rect x="453.97" y="312.28" width="4.10" height="2.82" fill="#ee0814"/>
<rect x="474.69" y="313.10" width="4.80" height="2.00" fill="#000"/>
<rect x="475.69" y="314.10" width="2.80" height="1.00" fill="#8c8c8c"/>
<rect x="469.19" y="313.10" width="6.10" height="2.00" fill="#000"/>
<rect x="470.19" y="314.10" width="4.10" height="1.00" fill="#ee0814"/>
<rect x="490.91" y="313.10" width="4.80" height="2.00" fill="#000"/>
<rect x="491.91" y="314.10" width="2.80" height="1.00" fill="#8c8c8c"/>
<rect x="485.41" y="313.10" width="6.10" height="2.00" fill="#000"/>
<rect x="486.41" y="314.10" width="4.10" height="1.00" fill="#ee0814"/>
<rect x="507.13" y="313.10" width="4.80" height="2.00" fill="#000"/>
<rect x="508.13" y="314.10" width="2.80" height="1.00" fill="#8c8c8c"/>
<rect x="501.63" y="313.10" width="6.10" height="2.00" fill="#000"/>
<rect x="502.63" y="314.10" width="4.10" height="1.00" fill="#ee0814"/>
<polyline points="244.41,265.00 244.41,259.80 250.61,259.80 250.61,284.00" fill="none" stroke="#000" stroke-width="1.4"/>
<text x="247.91" y="260.50" text-anchor="middle" fill="#000" stroke="#000" style="font-size:8.5px;stroke-width:0.7px">*</text>
<polyline points="260.63,267.60 260.63,263.40 266.83,263.40 266.83,287.80" fill="none" stroke="#000" stroke-width="1.4"/>
<text x="264.13" y="264.20" text-anchor="middle" fill="#000" stroke="#000" style="font-size:8.5px;stroke-width:0.7px">*</text>
<polyline points="276.85,292.00 276.85,290.20 283.05,290.20 283.05,299.60" fill="none" stroke="#000" stroke-width="1.4"/>
<text x="280.35" y="291.20" text-anchor="middle" fill="#000" stroke="#000" style="font-size:8.5px;stroke-width:0.7px">*</text>
<polyline points="293.07,294.50 293.07,291.60 299.27,291.60 299.27,301.00" fill="none" stroke="#000" stroke-width="1.4"/>
<text x="296.57" y="292.20" text-anchor="middle" fill="#000" stroke="#000" style="font-size:8.5px;stroke-width:0.7px">*</text>
<polyline points="309.29,300.00 309.29,297.60 315.49,297.60 315.49,307.00" fill="none" stroke="#000" stroke-width="1.4"/>
<text x="312.79" y="298.20" text-anchor="middle" fill="#000" stroke="#000" style="font-size:8.5px;stroke-width:0.7px">*</text>
<polyline points="325.51,302.50 325.51,300.60 331.71,300.60 331.71,304.80" fill="none" stroke="#000" stroke-width="1.4"/>
<text x="329.01" y="301.30" text-anchor="middle" fill="#000" stroke="#000" style="font-size:8.5px;stroke-width:0.7px">*</text>
<polyline points="389.79,309.20 389.79,306.40 395.99,306.40 395.99,311.80" fill="none" stroke="#000" stroke-width="1.4"/>
<text x="393.29" y="306.40" text-anchor="middle" fill="#000" stroke="#000" style="font-size:8.5px;stroke-width:0.7px">*</text>
<polyline points="454.67,310.80 454.67,308.20 460.87,308.20 460.87,313.20" fill="none" stroke="#000" stroke-width="1.4"/>
<text x="458.17" y="308.70" text-anchor="middle" fill="#000" stroke="#000" style="font-size:8.5px;stroke-width:0.7px">*</text>
<line x1="238.40" y1="315.10" x2="515.80" y2="315.10" stroke="#000" stroke-width="1.8" stroke-linecap="butt"/>
<line x1="239.30" y1="253.10" x2="239.30" y2="316.00" stroke="#000" stroke-width="1.8" stroke-linecap="butt"/>
<line x1="233.50" y1="315.10" x2="239.30" y2="315.10" stroke="#000" stroke-width="1.8" stroke-linecap="butt"/>
<text x="233.0" y="319.40" text-anchor="end" fill="#000" stroke="#000" style="font-size:12.0px;">0</text>
<line x1="233.50" y1="299.83" x2="239.30" y2="299.83" stroke="#000" stroke-width="1.8" stroke-linecap="butt"/>
<text x="233.0" y="304.12" text-anchor="end" fill="#000" stroke="#000" style="font-size:12.0px;">5</text>
<line x1="233.50" y1="284.55" x2="239.30" y2="284.55" stroke="#000" stroke-width="1.8" stroke-linecap="butt"/>
<text x="233.0" y="288.85" text-anchor="end" fill="#000" stroke="#000" style="font-size:12.0px;">10</text>
<line x1="233.50" y1="269.28" x2="239.30" y2="269.28" stroke="#000" stroke-width="1.8" stroke-linecap="butt"/>
<text x="233.0" y="273.57" text-anchor="end" fill="#000" stroke="#000" style="font-size:12.0px;">15</text>
<line x1="233.50" y1="254.00" x2="239.30" y2="254.00" stroke="#000" stroke-width="1.8" stroke-linecap="butt"/>
<text x="233.0" y="258.30" text-anchor="end" fill="#000" stroke="#000" style="font-size:12.0px;">20</text>
<line x1="239.30" y1="315.10" x2="239.30" y2="320.70" stroke="#000" stroke-width="1.8" stroke-linecap="butt"/>
<line x1="255.52" y1="315.10" x2="255.52" y2="320.70" stroke="#000" stroke-width="1.8" stroke-linecap="butt"/>
<line x1="271.74" y1="315.10" x2="271.74" y2="320.70" stroke="#000" stroke-width="1.8" stroke-linecap="butt"/>
<line x1="287.96" y1="315.10" x2="287.96" y2="320.70" stroke="#000" stroke-width="1.8" stroke-linecap="butt"/>
<line x1="304.18" y1="315.10" x2="304.18" y2="320.70" stroke="#000" stroke-width="1.8" stroke-linecap="butt"/>
<line x1="320.40" y1="315.10" x2="320.40" y2="320.70" stroke="#000" stroke-width="1.8" stroke-linecap="butt"/>
<line x1="336.62" y1="315.10" x2="336.62" y2="320.70" stroke="#000" stroke-width="1.8" stroke-linecap="butt"/>
<line x1="352.84" y1="315.10" x2="352.84" y2="320.70" stroke="#000" stroke-width="1.8" stroke-linecap="butt"/>
<line x1="369.06" y1="315.10" x2="369.06" y2="320.70" stroke="#000" stroke-width="1.8" stroke-linecap="butt"/>
<line x1="385.28" y1="315.10" x2="385.28" y2="320.70" stroke="#000" stroke-width="1.8" stroke-linecap="butt"/>
<line x1="401.50" y1="315.10" x2="401.50" y2="320.70" stroke="#000" stroke-width="1.8" stroke-linecap="butt"/>
<line x1="417.72" y1="315.10" x2="417.72" y2="320.70" stroke="#000" stroke-width="1.8" stroke-linecap="butt"/>
<line x1="433.94" y1="315.10" x2="433.94" y2="320.70" stroke="#000" stroke-width="1.8" stroke-linecap="butt"/>
<line x1="450.16" y1="315.10" x2="450.16" y2="320.70" stroke="#000" stroke-width="1.8" stroke-linecap="butt"/>
<line x1="466.38" y1="315.10" x2="466.38" y2="320.70" stroke="#000" stroke-width="1.8" stroke-linecap="butt"/>
<line x1="482.60" y1="315.10" x2="482.60" y2="320.70" stroke="#000" stroke-width="1.8" stroke-linecap="butt"/>
<line x1="498.82" y1="315.10" x2="498.82" y2="320.70" stroke="#000" stroke-width="1.8" stroke-linecap="butt"/>
<line x1="515.04" y1="315.10" x2="515.04" y2="320.70" stroke="#000" stroke-width="1.8" stroke-linecap="butt"/>
<text x="251.41" y="318.60" text-anchor="end" fill="#000" stroke="#000" style="font-size:11.8px;stroke-width:0.7px;" transform="translate(251.41 318.60) rotate(-90) scale(0.972 1) translate(-251.41 -318.60)">MAF</text>
<text x="267.70" y="318.60" text-anchor="end" fill="#000" stroke="#000" style="font-size:11.8px;stroke-width:0.7px;" transform="translate(267.70 318.60) rotate(-90) scale(0.972 1) translate(-267.70 -318.60)">KLF4</text>
<text x="283.99" y="318.60" text-anchor="end" fill="#000" stroke="#000" style="font-size:11.8px;stroke-width:0.7px;" transform="translate(283.99 318.60) rotate(-90) scale(0.972 1) translate(-283.99 -318.60)">EGR1</text>
<text x="300.28" y="318.60" text-anchor="end" fill="#000" stroke="#000" style="font-size:11.8px;stroke-width:0.7px;" transform="translate(300.28 318.60) rotate(-90) scale(0.972 1) translate(-300.28 -318.60)">BCL6</text>
<text x="316.57" y="318.60" text-anchor="end" fill="#000" stroke="#000" style="font-size:11.8px;stroke-width:0.7px;" transform="translate(316.57 318.60) rotate(-90) scale(0.972 1) translate(-316.57 -318.60)">MAFB</text>
<text x="332.86" y="318.60" text-anchor="end" fill="#000" stroke="#000" style="font-size:11.8px;stroke-width:0.7px;" transform="translate(332.86 318.60) rotate(-90) scale(0.972 1) translate(-332.86 -318.60)">LHX5</text>
<text x="349.15" y="318.60" text-anchor="end" fill="#000" stroke="#000" style="font-size:11.8px;stroke-width:0.7px;" transform="translate(349.15 318.60) rotate(-90) scale(0.972 1) translate(-349.15 -318.60)">EGR</text>
<text x="365.44" y="318.60" text-anchor="end" fill="#000" stroke="#000" style="font-size:11.8px;stroke-width:0.7px;" transform="translate(365.44 318.60) rotate(-90) scale(0.972 1) translate(-365.44 -318.60)">TWIST</text>
<text x="381.73" y="318.60" text-anchor="end" fill="#000" stroke="#000" style="font-size:11.8px;stroke-width:0.7px;" transform="translate(381.73 318.60) rotate(-90) scale(0.972 1) translate(-381.73 -318.60)">ATF3</text>
<text x="398.02" y="318.60" text-anchor="end" fill="#000" stroke="#000" style="font-size:11.8px;stroke-width:0.7px;" transform="translate(398.02 318.60) rotate(-90) scale(0.972 1) translate(-398.02 -318.60)">LHX2</text>
<text x="414.31" y="318.60" text-anchor="end" fill="#000" stroke="#000" style="font-size:11.8px;stroke-width:0.7px;" transform="translate(414.31 318.60) rotate(-90) scale(0.972 1) translate(-414.31 -318.60)">GFI1B</text>
<text x="430.60" y="318.60" text-anchor="end" fill="#000" stroke="#000" style="font-size:11.8px;stroke-width:0.7px;" transform="translate(430.60 318.60) rotate(-90) scale(0.972 1) translate(-430.60 -318.60)">CUX</text>
<text x="446.89" y="318.60" text-anchor="end" fill="#000" stroke="#000" style="font-size:11.8px;stroke-width:0.7px;" transform="translate(446.89 318.60) rotate(-90) scale(0.972 1) translate(-446.89 -318.60)">IRF5</text>
<text x="463.18" y="318.60" text-anchor="end" fill="#000" stroke="#000" style="font-size:11.8px;stroke-width:0.7px;" transform="translate(463.18 318.60) rotate(-90) scale(0.972 1) translate(-463.18 -318.60)">AhR</text>
<text x="479.47" y="318.60" text-anchor="end" fill="#000" stroke="#000" style="font-size:11.8px;stroke-width:0.7px;" transform="translate(479.47 318.60) rotate(-90) scale(0.972 1) translate(-479.47 -318.60)">ATF</text>
<text x="495.76" y="318.60" text-anchor="end" fill="#000" stroke="#000" style="font-size:11.8px;stroke-width:0.7px;" transform="translate(495.76 318.60) rotate(-90) scale(0.972 1) translate(-495.76 -318.60)">CREM</text>
<text x="512.05" y="318.60" text-anchor="end" fill="#000" stroke="#000" style="font-size:11.8px;stroke-width:0.7px;" transform="translate(512.05 318.60) rotate(-90) scale(0.972 1) translate(-512.05 -318.60)">AhR:Arnt</text>
<rect x="277.70" y="257.90" width="7.40" height="7.40" fill="#ee0814" stroke="#000" stroke-width="1.5"/>
<rect x="277.70" y="271.90" width="7.40" height="7.40" fill="#8c8c8c" stroke="#000" stroke-width="1.5"/>
<text x="286.8" y="265.30" text-anchor="start" fill="#000" stroke="#000" style="font-size:11.55px;">IRF8-inducible genes without IRF8 binding</text>
<text x="286.8" y="279.30" text-anchor="start" fill="#000" stroke="#000" style="font-size:11.55px;">All other genes without IRF8 binding</text>
<text x="212.7" y="418.8" text-anchor="start" fill="#000" stroke="#000" style="font-size:11.5px;" transform="rotate(-90 212.7 418.8)">Z-score</text>
<rect x="243.78" y="370.69" width="6.70" height="46.31" fill="#0a0a96"/>
<rect x="260.02" y="382.27" width="6.70" height="34.73" fill="#0a0a96"/>
<rect x="276.27" y="387.38" width="6.70" height="29.62" fill="#0a0a96"/>
<rect x="292.52" y="387.65" width="6.70" height="29.35" fill="#0a0a96"/>
<rect x="308.77" y="395.73" width="6.70" height="21.27" fill="#0a0a96"/>
<rect x="325.02" y="396.81" width="6.70" height="20.19" fill="#0a0a96"/>
<rect x="341.27" y="400.04" width="6.70" height="16.96" fill="#0a0a96"/>
<rect x="357.52" y="400.85" width="6.70" height="16.16" fill="#0a0a96"/>
<rect x="373.77" y="402.46" width="6.70" height="14.54" fill="#0a0a96"/>
<rect x="390.02" y="404.35" width="6.70" height="12.65" fill="#0a0a96"/>
<rect x="406.27" y="404.88" width="6.70" height="12.12" fill="#0a0a96"/>
<rect x="422.52" y="405.15" width="6.70" height="11.85" fill="#0a0a96"/>
<rect x="438.77" y="405.69" width="6.70" height="11.31" fill="#0a0a96"/>
<rect x="455.02" y="407.85" width="6.70" height="9.15" fill="#0a0a96"/>
<rect x="471.27" y="407.85" width="6.70" height="9.15" fill="#0a0a96"/>
<rect x="487.52" y="411.18" width="6.70" height="5.82" fill="#0a0a96"/>
<rect x="503.77" y="417.00" width="6.70" height="0.54" fill="#0a0a96"/>
<line x1="238.30" y1="417.00" x2="515.40" y2="417.00" stroke="#000" stroke-width="1.8" stroke-linecap="butt"/>
<line x1="239.20" y1="362.25" x2="239.20" y2="428.67" stroke="#000" stroke-width="1.8" stroke-linecap="butt"/>
<line x1="233.40" y1="427.77" x2="239.20" y2="427.77" stroke="#000" stroke-width="1.8" stroke-linecap="butt"/>
<text x="231.0" y="432.07" text-anchor="end" fill="#000" stroke="#000" style="font-size:12.0px;">-2</text>
<line x1="233.40" y1="417.00" x2="239.20" y2="417.00" stroke="#000" stroke-width="1.8" stroke-linecap="butt"/>
<text x="231.0" y="421.30" text-anchor="end" fill="#000" stroke="#000" style="font-size:12.0px;">0</text>
<line x1="233.40" y1="406.23" x2="239.20" y2="406.23" stroke="#000" stroke-width="1.8" stroke-linecap="butt"/>
<text x="231.0" y="410.53" text-anchor="end" fill="#000" stroke="#000" style="font-size:12.0px;">2</text>
<line x1="233.40" y1="395.46" x2="239.20" y2="395.46" stroke="#000" stroke-width="1.8" stroke-linecap="butt"/>
<text x="231.0" y="399.76" text-anchor="end" fill="#000" stroke="#000" style="font-size:12.0px;">4</text>
<line x1="233.40" y1="384.69" x2="239.20" y2="384.69" stroke="#000" stroke-width="1.8" stroke-linecap="butt"/>
<text x="231.0" y="388.99" text-anchor="end" fill="#000" stroke="#000" style="font-size:12.0px;">6</text>
<line x1="233.40" y1="373.92" x2="239.20" y2="373.92" stroke="#000" stroke-width="1.8" stroke-linecap="butt"/>
<text x="231.0" y="378.22" text-anchor="end" fill="#000" stroke="#000" style="font-size:12.0px;">8</text>
<line x1="233.40" y1="363.15" x2="239.20" y2="363.15" stroke="#000" stroke-width="1.8" stroke-linecap="butt"/>
<text x="231.0" y="367.45" text-anchor="end" fill="#000" stroke="#000" style="font-size:12.0px;">10</text>
<text x="249.72" y="420.20" text-anchor="end" fill="#000" stroke="#000" style="font-size:11.8px;stroke-width:0.7px;" transform="translate(249.72 420.20) rotate(-90) scale(0.97 1) translate(-249.72 -420.20)">KLF4</text>
<text x="266.05" y="420.20" text-anchor="end" fill="#000" stroke="#000" style="font-size:11.8px;stroke-width:0.7px;" transform="translate(266.05 420.20) rotate(-90) scale(0.97 1) translate(-266.05 -420.20)">MAF</text>
<text x="282.38" y="420.20" text-anchor="end" fill="#000" stroke="#000" style="font-size:11.8px;stroke-width:0.7px;" transform="translate(282.38 420.20) rotate(-90) scale(0.97 1) translate(-282.38 -420.20)">MAFB</text>
<text x="298.71" y="420.20" text-anchor="end" fill="#000" stroke="#000" style="font-size:11.8px;stroke-width:0.7px;" transform="translate(298.71 420.20) rotate(-90) scale(0.97 1) translate(-298.71 -420.20)">EGR1</text>
<text x="315.04" y="420.20" text-anchor="end" fill="#000" stroke="#000" style="font-size:11.8px;stroke-width:0.7px;" transform="translate(315.04 420.20) rotate(-90) scale(0.97 1) translate(-315.04 -420.20)">BCL6</text>
<text x="331.37" y="420.20" text-anchor="end" fill="#000" stroke="#000" style="font-size:11.8px;stroke-width:0.7px;" transform="translate(331.37 420.20) rotate(-90) scale(0.97 1) translate(-331.37 -420.20)">AhR</text>
<text x="347.70" y="420.20" text-anchor="end" fill="#000" stroke="#000" style="font-size:11.8px;stroke-width:0.7px;" transform="translate(347.70 420.20) rotate(-90) scale(0.97 1) translate(-347.70 -420.20)">LHX2</text>
<text x="364.03" y="420.20" text-anchor="end" fill="#000" stroke="#000" style="font-size:11.8px;stroke-width:0.7px;" transform="translate(364.03 420.20) rotate(-90) scale(0.97 1) translate(-364.03 -420.20)">LHX5</text>
<text x="380.36" y="420.20" text-anchor="end" fill="#000" stroke="#000" style="font-size:11.8px;stroke-width:0.7px;" transform="translate(380.36 420.20) rotate(-90) scale(0.97 1) translate(-380.36 -420.20)">TWIST</text>
<text x="396.69" y="420.20" text-anchor="end" fill="#000" stroke="#000" style="font-size:11.8px;stroke-width:0.7px;" transform="translate(396.69 420.20) rotate(-90) scale(0.97 1) translate(-396.69 -420.20)">ATF3</text>
<text x="413.02" y="420.20" text-anchor="end" fill="#000" stroke="#000" style="font-size:11.8px;stroke-width:0.7px;" transform="translate(413.02 420.20) rotate(-90) scale(0.97 1) translate(-413.02 -420.20)">CUX</text>
<text x="429.35" y="420.20" text-anchor="end" fill="#000" stroke="#000" style="font-size:11.8px;stroke-width:0.7px;" transform="translate(429.35 420.20) rotate(-90) scale(0.97 1) translate(-429.35 -420.20)">GFI1B</text>
<text x="445.68" y="420.20" text-anchor="end" fill="#000" stroke="#000" style="font-size:11.8px;stroke-width:0.7px;" transform="translate(445.68 420.20) rotate(-90) scale(0.97 1) translate(-445.68 -420.20)">IRF5</text>
<text x="462.01" y="420.20" text-anchor="end" fill="#000" stroke="#000" style="font-size:11.8px;stroke-width:0.7px;" transform="translate(462.01 420.20) rotate(-90) scale(0.97 1) translate(-462.01 -420.20)">AhR:Arnt</text>
<text x="478.34" y="420.20" text-anchor="end" fill="#000" stroke="#000" style="font-size:11.8px;stroke-width:0.7px;" transform="translate(478.34 420.20) rotate(-90) scale(0.97 1) translate(-478.34 -420.20)">EGR</text>
<text x="494.67" y="420.20" text-anchor="end" fill="#000" stroke="#000" style="font-size:11.8px;stroke-width:0.7px;" transform="translate(494.67 420.20) rotate(-90) scale(0.97 1) translate(-494.67 -420.20)">CREM</text>
<text x="511.00" y="415.20" text-anchor="start" fill="#000" stroke="#000" style="font-size:11.8px;stroke-width:0.7px;" transform="translate(511.00 415.20) rotate(-90) scale(0.97 1) translate(-511.00 -415.20)">ATF</text>
</g>
</g>
</svg>
</body>
</html>
